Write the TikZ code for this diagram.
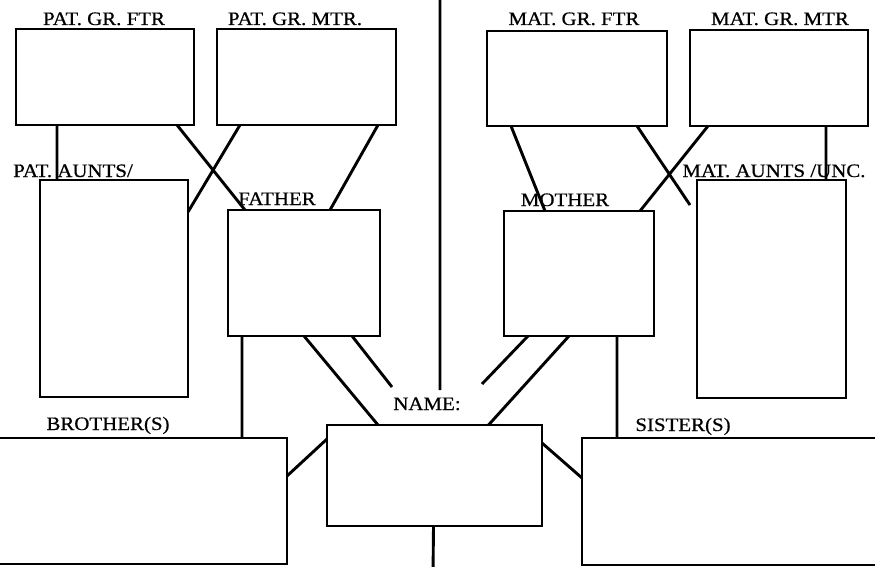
\documentclass[tikz,border=0pt]{standalone}
\usepackage{fontspec}
\setmainfont{Liberation Serif}[FakeStretch=1.1, FakeBold=0.6]

\begin{document}
\begin{tikzpicture} [x=1pt, y=-1pt, line width=2.9pt]
\tikzstyle{box}=[draw, shape=rectangle, inner sep=0pt, outer sep=0pt];
\tikzstyle{lbl}=[anchor=base, inner sep=0pt, font=\fontsize{19}{21}\selectfont];
\useasboundingbox (0, 0) rectangle (875, 567);
\clip (0, 0) rectangle (875, 567);
\fill [white] (0, 0) rectangle (875, 567);
% grandparents
\node [box, minimum width=178pt, minimum height=96pt] (pgf) at (105, 77) {};
\node [box, minimum width=179pt, minimum height=96pt] (pgm) at (306.5, 77) {};
\node [box, minimum width=180pt, minimum height=95pt] (mgf) at (577, 78.5) {};
\node [box, minimum width=178pt, minimum height=96pt] (mgm) at (779, 78) {};
% parents, aunts and uncles
\node [box, minimum width=148pt, minimum height=217pt] (pau) at (114, 288.5) {};
\node [box, minimum width=152pt, minimum height=126pt] (fat) at (304, 273) {};
\node [box, minimum width=150pt, minimum height=125pt] (mot) at (579, 273.5) {};
\node [box, minimum width=149pt, minimum height=218pt] (mau) at (771.5, 289) {};
% me, brothers, sisters
\node [box, minimum width=215pt, minimum height=101pt] (name) at (434.5, 475.5) {};
\node [box, minimum width=307pt, minimum height=126pt] (bro) at (133.5, 501) {};
\node [box, minimum width=313pt, minimum height=127pt] (sis) at (738.5, 501.5) {};
% labels
\node [lbl] (pgflbl) at (104, 25) {PAT. GR. FTR};
\node [lbl] (pgmlbl) at (295, 25) {PAT. GR. MTR.};
\node [lbl] (mgflbl) at (574, 25) {MAT. GR. FTR};
\node [lbl] (mgmlbl) at (780, 25) {MAT. GR. MTR};
\node [lbl] (paulbl) at (73, 177) {PAT. AUNTS/};
\node [lbl] (fatlbl) at (277, 205) {FATHER};
\node [lbl] (motlbl) at (565, 206) {MOTHER};
\node [lbl] (maulbl) at (774, 177) {MAT. AUNTS /UNC.};
\node [lbl] (namelbl) at (427, 410) {NAME:};
\node [lbl] (brolbl) at (108, 430) {BROTHER(S)};
\node [lbl] (sislbl) at (683, 431) {SISTER(S)};
% free ends
\coordinate (top) at (440, -5);
\coordinate (mid) at (440, 390);
\coordinate (fend) at (392, 387);
\coordinate (mend) at (482, 384);
\coordinate (uend) at (690, 205);
\coordinate (bot) at (433, 575);
\draw (top) -- (mid)
([xshift=41pt]pgf.south west) -- ([xshift=41pt]pgf.south west |- pau.north)
([xshift=-17pt]pgf.south east) -- ([xshift=17pt]fat.north west)
([xshift=23pt]pgm.south west) -- ([yshift=-32pt]pau.north east)
([xshift=-18pt]pgm.south east) -- ([xshift=26pt]fat.north)
([xshift=24pt]mgf.south west) -- ([xshift=41pt]mot.north west)
([xshift=-30pt]mgf.south east) -- (uend)
([xshift=18pt]mgm.south west) -- ([xshift=-14pt]mot.north east)
([xshift=47pt]mgm.south) -- ([xshift=47pt]mgm.south |- mau.north)
([xshift=14pt]fat.south west) -- ([xshift=14pt]fat.south west |- bro.north)
(fat.south) -- ([xshift=51pt]name.north west)
([xshift=-28pt]fat.south east) -- (fend)
([xshift=24pt]mot.south west) -- (mend)
([xshift=65pt]mot.south west) -- ([xshift=54pt]name.north)
([xshift=-37pt]mot.south east) -- ([xshift=-37pt]mot.south east |- sis.north)
([yshift=-14pt]name.north west) -- ([yshift=-38pt]bro.north east)
([yshift=-18pt]name.north east) -- ([yshift=-40pt]sis.north west)
([xshift=-1pt]name.south) -- (bot)
;
\end{tikzpicture}
\end{document}
